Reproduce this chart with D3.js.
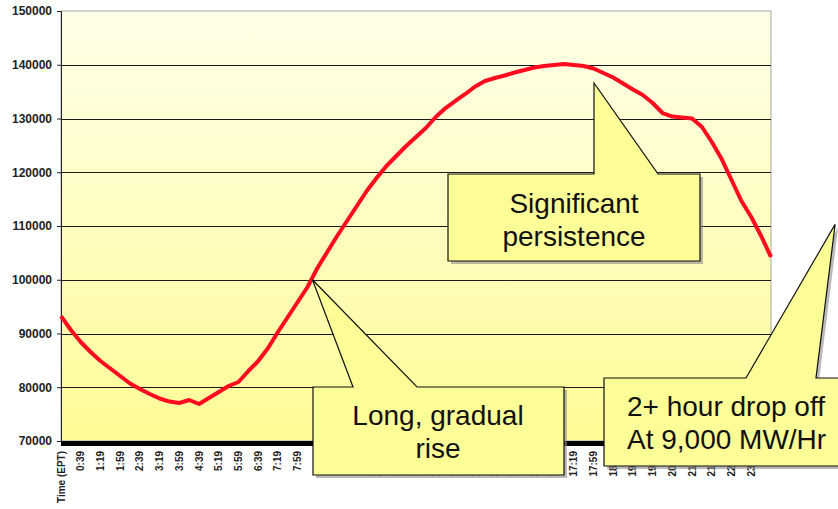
<!DOCTYPE html>
<html>
<head>
<meta charset="utf-8">
<script src="https://cdn.jsdelivr.net/npm/d3@7"></script>
<style>
    body { margin: 0; background: #fff; }
    svg { display: block; font-family: Arial, "Liberation Sans", sans-serif; }
</style>
</head>
<body>
<div id="chart"></div>
<script>
// minutes after midnight, one reading every 20 minutes
let minutes = d3.range(0, 1441, 20);

// system load (MW)
let loadMW = [93250, 90650, 88420, 86560, 84880, 83490, 82090, 80700, 79670, 78740,
    77910, 77340, 77070, 77630, 76880, 78000, 79120, 80230, 80980, 83020,
    84880, 87300, 90280, 93070, 95860, 98650, 102190, 105160, 108140, 110930,
    113720, 116510, 118930, 121160, 123020, 124880, 126560, 128230, 130280, 131950,
    133260, 134560, 135950, 136980, 137530, 138000, 138560, 139020, 139490, 139770,
    139950, 140140, 139950, 139770, 139300, 138470, 137630, 136510, 135400, 134370,
    132880, 131020, 130370, 130190, 130000, 128420, 125630, 122460, 118560, 114650,
    111670, 108140, 104230];

let yTicks = [70000, 80000, 90000, 100000, 110000, 120000, 130000, 140000, 150000];

let tickLabels = ["Time (EPT)", "0:39", "1:19", "1:59", "2:39", "3:19", "3:59", "4:39", "5:19",
    "5:59", "6:39", "7:19", "7:59", "8:39", "9:19", "9:59", "10:39", "11:19", "11:59",
    "12:39", "13:19", "13:59", "14:39", "15:19", "15:59", "16:39", "17:19", "17:59",
    "18:39", "19:19", "19:59", "20:39", "21:19", "21:59", "22:39", "23:19"];
let tickMinutes = tickLabels.map((d, i) => i === 0 ? 0 : i * 40 - 1);

// callout texts and the point each one aims at (minute, MW)
let calloutText = [["Significant", "persistence"], ["Long, gradual", "rise"], ["2+ hour drop off", "At 9,000 MW/Hr"]];
let calloutTip = [[1081, 136600], [510, 100000], [1570, 110300]];


let width = 838, height = 509;
let margin = {top: 11, right: 67, bottom: 68, left: 61};

let svg = d3.select("#chart").append("svg")
    .attr("width", width)
    .attr("height", height);

let x = d3.scaleLinear()
    .domain([0, 1440])
    .range([margin.left, width - margin.right]);

let y = d3.scaleLinear()
    .domain([70000, 150000])
    .range([height - margin.bottom, margin.top]);

// background gradient
let grad = svg.append("defs").append("linearGradient")
    .attr("id", "bg")
    .attr("x1", 0).attr("y1", 0).attr("x2", 0).attr("y2", 1);
grad.append("stop").attr("offset", "0%").attr("stop-color", "#ffffe9");
grad.append("stop").attr("offset", "100%").attr("stop-color", "#fffb97");

svg.append("rect")
    .attr("x", x(0))
    .attr("y", y(150000))
    .attr("width", x(1440) - x(0))
    .attr("height", y(70000) - y(150000))
    .attr("fill", "url(#bg)")
    .attr("stroke", "#a6a6a6");

// gridlines
svg.append("g")
    .selectAll("line")
    .data(yTicks.slice(1, -1))
    .join("line")
    .attr("x1", x(0))
    .attr("x2", x(1440))
    .attr("y1", d => Math.round(y(d)) + 0.5)
    .attr("y2", d => Math.round(y(d)) + 0.5)
    .attr("stroke", "#1a1a1a")
    .attr("stroke-width", 1);

// y axis
let yAxis = d3.axisLeft(y)
    .tickValues(yTicks)
    .tickSize(4)
    .tickPadding(5)
    .tickFormat(d3.format("d"));

let yG = svg.append("g")
    .attr("transform", "translate(" + x(0) + ",0)")
    .call(yAxis);
yG.select(".domain").attr("stroke", "#222");
yG.selectAll(".tick line").attr("stroke", "#222");
yG.selectAll("text")
    .attr("font-size", 12)
    .attr("font-weight", "bold")
    .attr("font-family", "Arial, 'Liberation Sans', sans-serif")
    .attr("fill", "#222");

// thick base line
svg.append("line")
    .attr("x1", x(0))
    .attr("x2", x(1440))
    .attr("y1", y(70000) + 2.5)
    .attr("y2", y(70000) + 2.5)
    .attr("stroke", "#000")
    .attr("stroke-width", 5);

// x labels (rotated)
svg.append("g")
    .selectAll("text")
    .data(tickLabels)
    .join("text")
    .attr("transform", (d, i) => "translate(" + (x(tickMinutes[i]) + 4) + "," + (y(70000) + 10) + ") rotate(-90)")
    .attr("text-anchor", "end")
    .attr("font-size", 10)
    .attr("font-weight", "bold")
    .attr("fill", "#222")
    .text(d => d);

// load curve
let line = d3.line()
    .x((d, i) => x(minutes[i]))
    .y(d => y(d));

svg.append("path")
    .datum(loadMW)
    .attr("d", line)
    .attr("fill", "none")
    .attr("stroke", "#ff0a1e")
    .attr("stroke-width", 4)
    .attr("stroke-linejoin", "round");

// callouts: box [x0, y0, x1, y1] and pointer base on the top edge
let boxes = [[448, 174, 700, 261], [313, 387, 564, 475], [604, 378, 900, 466]];
let bases = [[594, 658], [353, 417], [746, 816]];

function calloutPath(i) {
    let b = boxes[i], p = bases[i];
    let tx = x(calloutTip[i][0]), ty = y(calloutTip[i][1]);
    return "M" + b[0] + "," + b[1] + "L" + p[0] + "," + b[1] + "L" + tx + "," + ty +
        "L" + p[1] + "," + b[1] + "L" + b[2] + "," + b[1] + "L" + b[2] + "," + b[3] +
        "L" + b[0] + "," + b[3] + "Z";
}

let callouts = svg.append("g")
    .selectAll("g")
    .data(calloutText)
    .join("g");

callouts.append("path")
    .attr("d", (d, i) => calloutPath(i))
    .attr("transform", "translate(3,3)")
    .attr("fill", "#8c8c8c")
    .attr("opacity", 0.6);

callouts.append("path")
    .attr("d", (d, i) => calloutPath(i))
    .attr("fill", "#fdfd98")
    .attr("stroke", "#111")
    .attr("stroke-width", 1.2);

let textPos = [[574, 213, "middle"], [438, 425, "middle"], [627, 416, "start"]];

callouts.each(function (d, i) {
    d3.select(this).selectAll("text")
        .data(d)
        .join("text")
        .attr("x", textPos[i][0])
        .attr("y", (t, j) => textPos[i][1] + j * 33)
        .attr("text-anchor", textPos[i][2])
        .attr("font-size", 28)
        .attr("fill", "#111")
        .text(t => t);
});
</script>
</body>
</html>
